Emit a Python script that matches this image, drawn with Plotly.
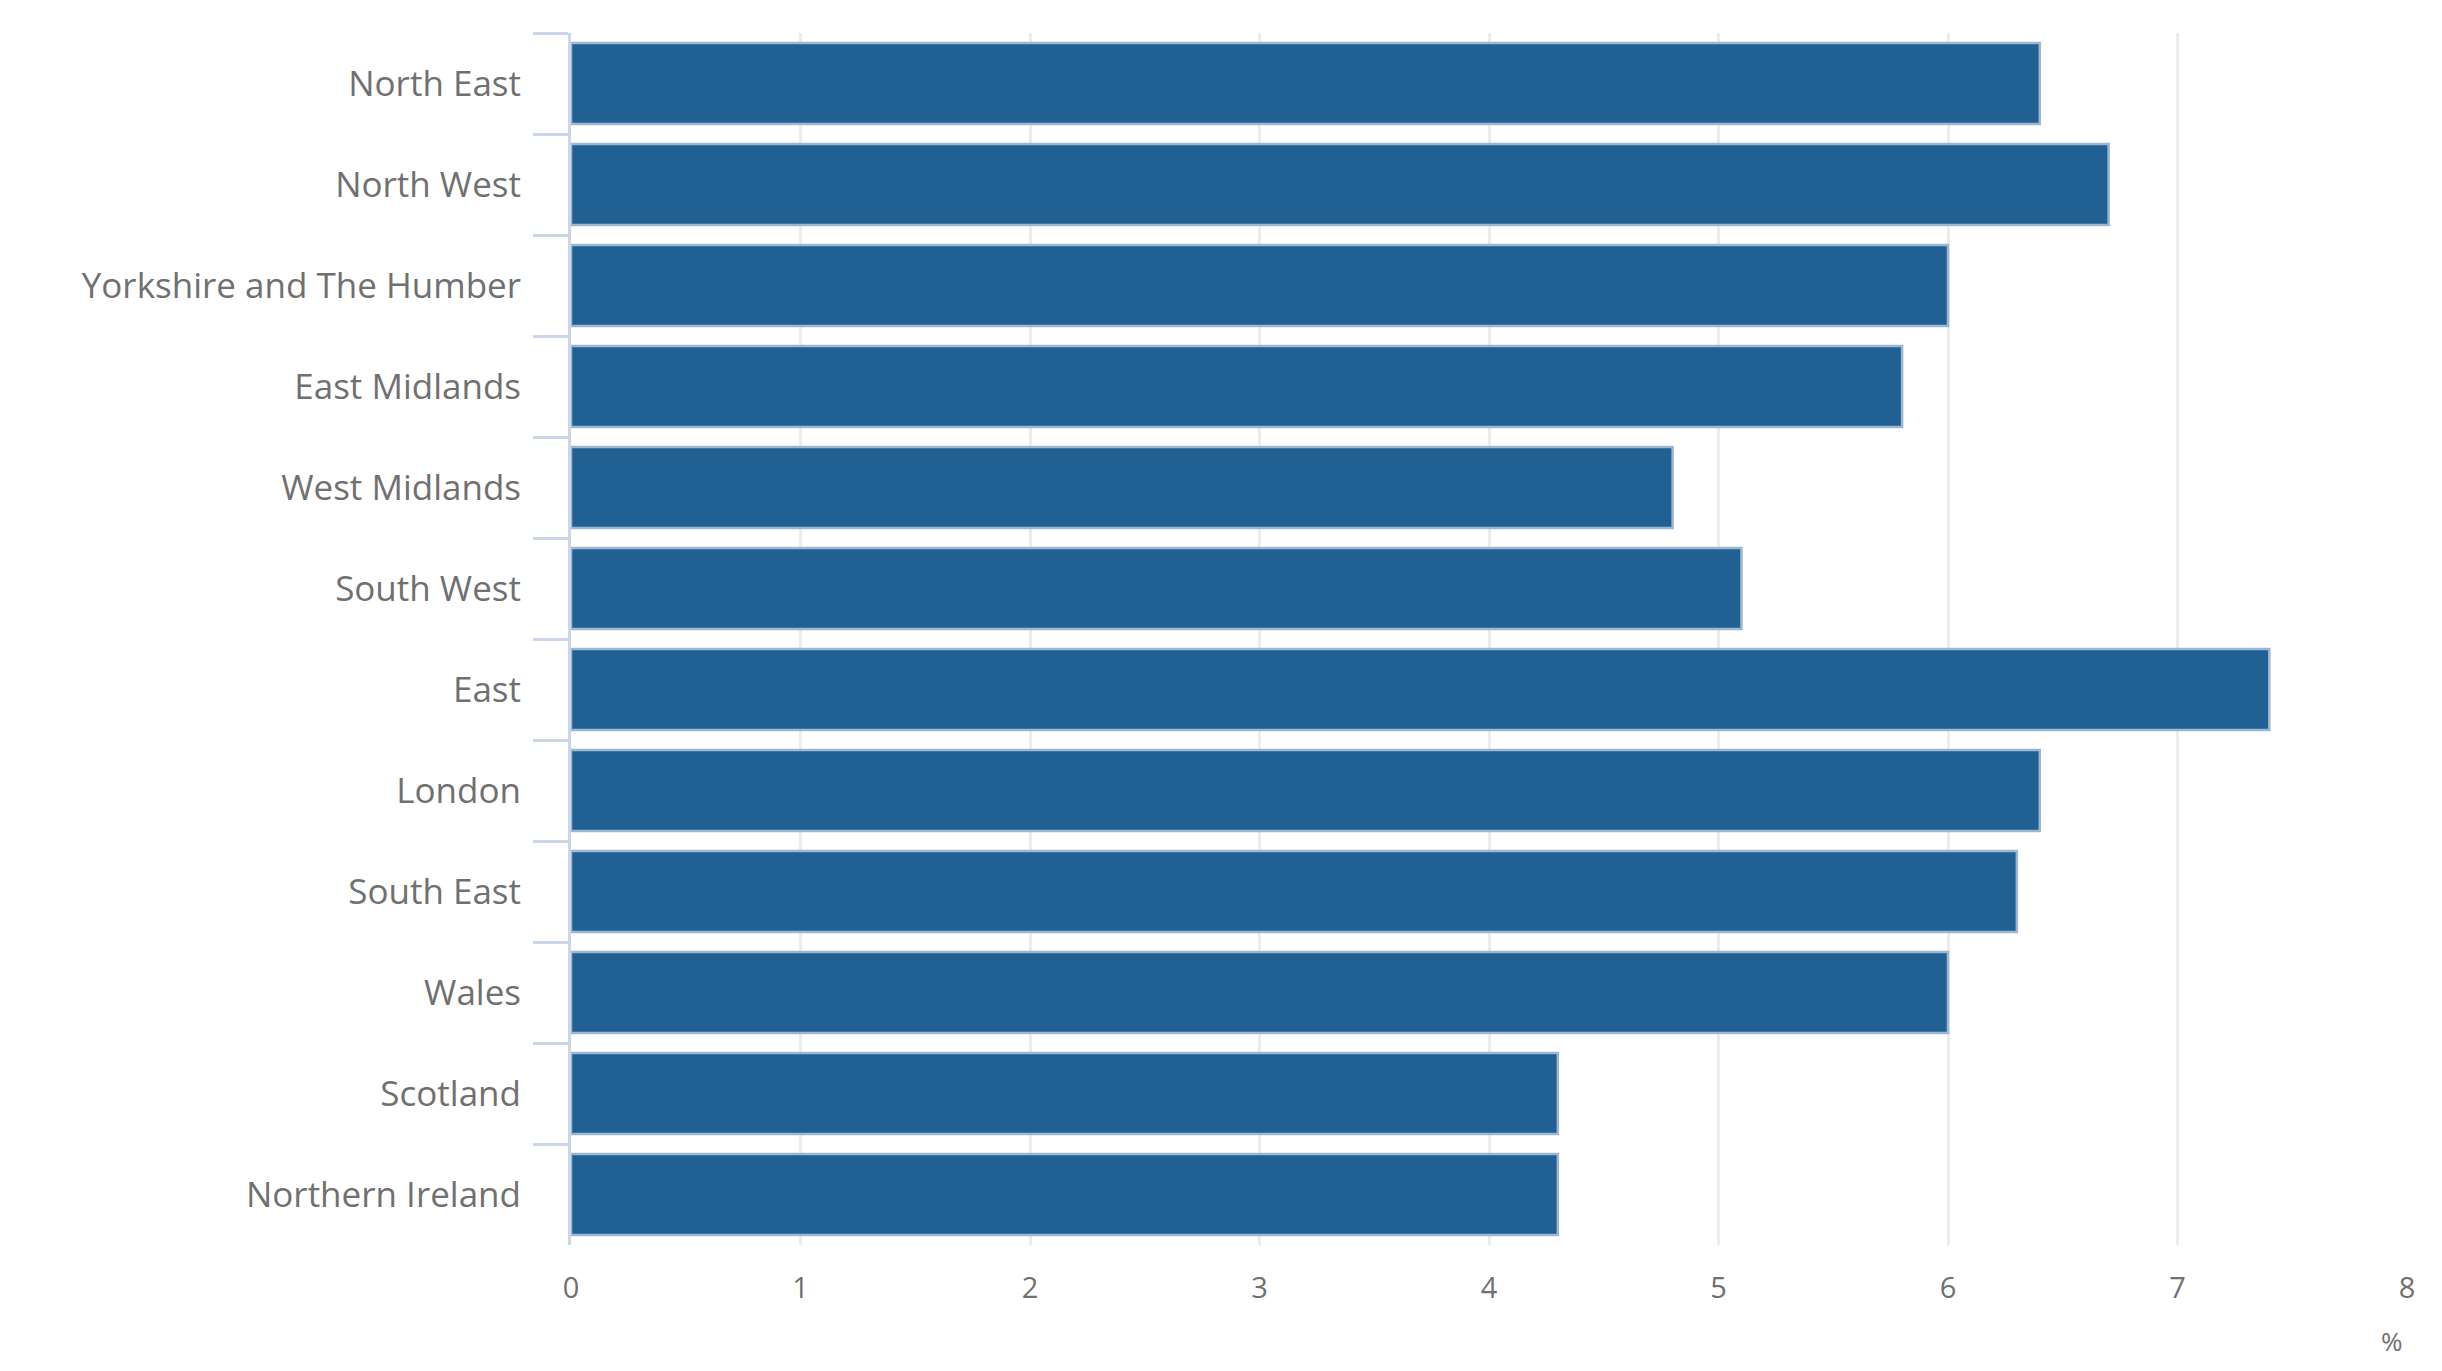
import plotly.graph_objects as go

regions = ["North East", "North West", "Yorkshire and The Humber", "East Midlands",
           "West Midlands", "South West", "East", "London", "South East", "Wales",
           "Scotland", "Northern Ireland"]
values = [6.4, 6.7, 6.0, 5.8, 4.8, 5.1, 7.4, 6.4, 6.3, 6.0, 4.3, 4.3]
x_ticks = [0, 1, 2, 3, 4, 5, 6, 7, 8]
unit_label = "%"

W, H = 2442, 1371
L, R, T, B = 563, 43, 25, 134

fig = go.Figure(go.Bar(
    x=values, y=regions, orientation="h",
    marker=dict(color="#216093", line=dict(color="#9db7d1", width=2.5)),
    width=0.8,
))

fig.update_layout(
    width=W, height=H,
    margin=dict(l=L, r=R, t=T, b=B, pad=0),
    plot_bgcolor="white", paper_bgcolor="white",
    showlegend=False,
    font=dict(family="Open Sans", color="#707070"),
    bargap=0.2,
)
fig.update_xaxes(
    range=[0, 8], tickvals=x_ticks, ticktext=[str(v) for v in x_ticks],
    showgrid=True, gridcolor="#ececec", gridwidth=3,
    zeroline=False, showline=False, ticks="",
    tickfont=dict(size=29, color="#707070"),
    ticklabelstandoff=23,
    fixedrange=True,
)
fig.update_yaxes(
    categoryorder="array", categoryarray=regions, autorange="reversed",
    showgrid=False, showline=True, linecolor="#ccd6eb", linewidth=3,
    ticks="outside", tickson="boundaries", ticklen=35, tickcolor="#ccd6eb", tickwidth=3,
    tickfont=dict(size=35, color="#707070"),
    ticklabelstandoff=40,
    fixedrange=True,
)
fig.add_annotation(
    text=unit_label, xref="paper", yref="paper",
    x=(2384 - L) / (W - L - R), y=(H - B - 1333) / (H - T - B),
    xanchor="center", yanchor="middle", showarrow=False,
    font=dict(size=26, color="#707070", family="Open Sans"),
)

fig.write_html("out.html")
